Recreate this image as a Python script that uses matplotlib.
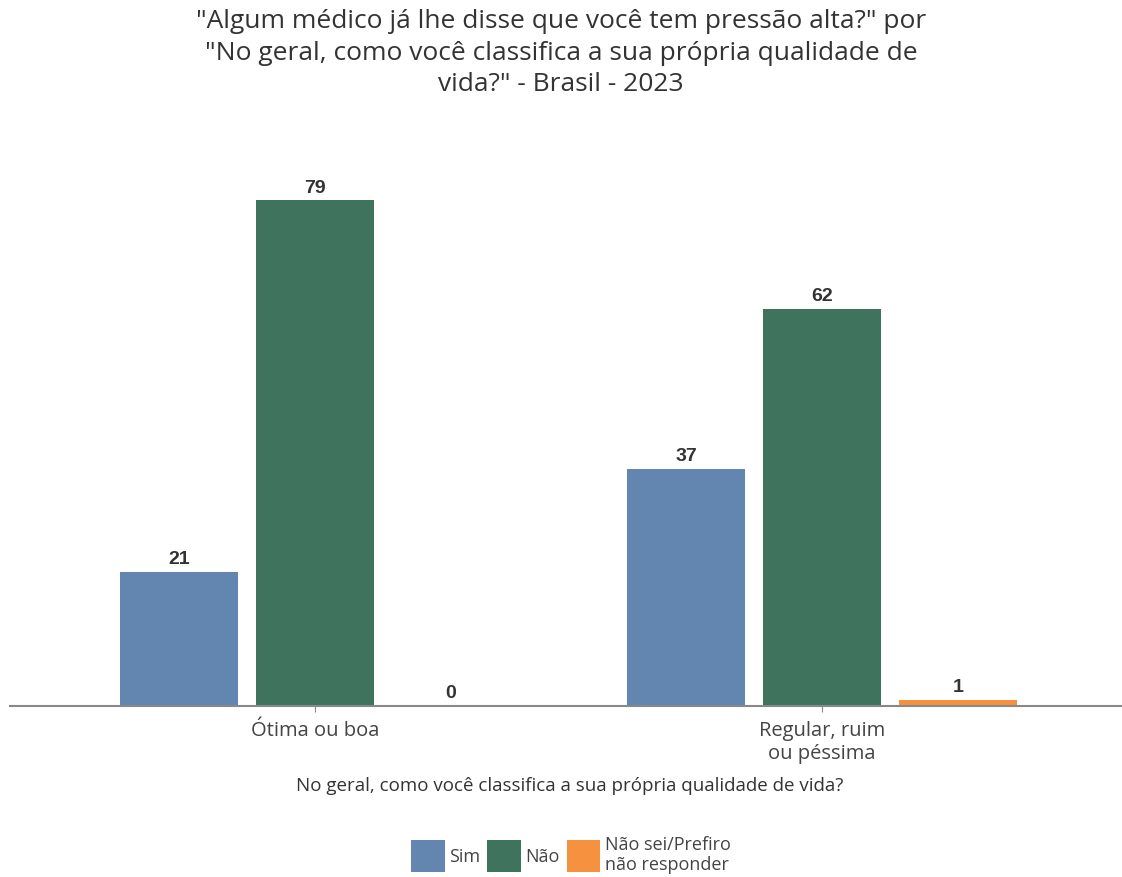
import matplotlib.pyplot as plt
import numpy as np

categories = ['Ótima ou boa', 'Regular, ruim\nou péssima']
series = ['Sim', 'Não', 'Não sei/Prefiro\nnão responder']
sim = [21, 37]
nao = [79, 62]
nsnr = [0, 1]
colors = ['#6386B0', '#40735E', '#F5913F']

plt.rcParams['font.family'] = ['Open Sans', 'DejaVu Sans']

fig = plt.figure(figsize=(11.22, 8.77), dpi=100)
ax = fig.add_axes([10 / 1122, 171 / 877, 1112 / 1122, 556 / 877])

x = np.arange(len(categories))
step = 0.268
width = 0.233
for i, (vals, name) in enumerate(zip([sim, nao, nsnr], series)):
    bars = ax.bar(x + (i - 1) * step, vals, width, color=colors[i], label=name)
    for b, v in zip(bars, vals):
        ax.text(b.get_x() + b.get_width() / 2, v + 0.6, str(v), ha='center', va='bottom',
                fontsize=14, fontweight='bold', color='#333333', family='Liberation Sans')

ax.set_xlim(-0.6016, 1.5917)
ax.set_ylim(0, 86.875)
ax.set_yticks([])
for s in ['top', 'right', 'left']:
    ax.spines[s].set_visible(False)
ax.spines['bottom'].set_color('#888888')
ax.spines['bottom'].set_linewidth(1.5)
ax.set_xticks(x)
ax.set_xticklabels(categories, fontsize=14.5, color='#444444', linespacing=1.2)
ax.tick_params(axis='x', length=4, color='#888888', pad=7)
ax.set_xlabel('No geral, como você classifica a sua própria qualidade de vida?',
              fontsize=13.5, color='#333333')
ax.xaxis.set_label_coords((570 - 10) / 1112, -(786 - 706) / 556)
ax.xaxis.label.set_va('center')

fig.text(0.5, 1 - 53 / 877,
         '"Algum médico já lhe disse que você tem pressão alta?" por\n'
         '"No geral, como você classifica a sua própria qualidade de\n'
         'vida?" - Brasil - 2023',
         ha='center', va='center', fontsize=19, color='#333333', linespacing=1.33)

leg = fig.legend(loc='center', bbox_to_anchor=(571 / 1122, 1 - 855 / 877), ncol=3,
                 frameon=False, fontsize=13, handlelength=1.85, handleheight=2.35,
                 handletextpad=0.25, columnspacing=0.4, labelcolor='#444444')

fig.savefig('out.png', dpi=100)
